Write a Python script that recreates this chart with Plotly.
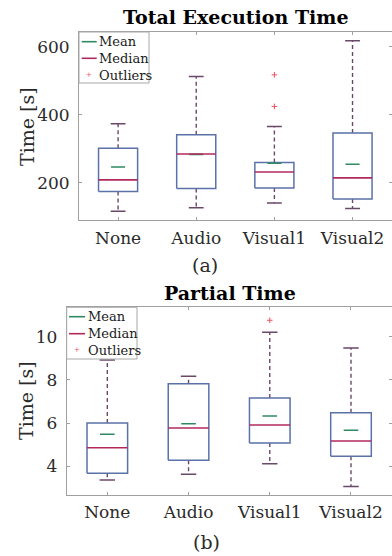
import plotly.graph_objects as go

categories = ["None", "Audio", "Visual1", "Visual2"]

# (a) Total Execution Time [s]
total_low = [116, 126, 140, 124]
total_q1 = [174, 183, 184, 152]
total_median = [208, 284, 231, 214]
total_mean = [246, 283, 257, 254]
total_q3 = [301, 341, 259, 346]
total_high = [373, 512, 365, 617]
total_outlier_cat = ["Visual1", "Visual1"]
total_outlier_val = [517, 424]

# (b) Partial Time [s]
partial_low = [3.37, 3.63, 4.12, 3.06]
partial_q1 = [3.68, 4.28, 5.08, 4.46]
partial_median = [4.86, 5.77, 5.91, 5.17]
partial_mean = [5.48, 5.97, 6.33, 5.67]
partial_q3 = [6.00, 7.82, 7.16, 6.48]
partial_high = [8.92, 8.17, 10.20, 9.48]
partial_outlier_cat = ["Visual1"]
partial_outlier_val = [10.76]

legend_labels = ["Mean", "Median", "Outliers"]

BOX_HALF = 0.25
CAP_HALF = 0.095
MEAN_HALF = 0.09

BOX_COLOR = "#5a72a8"
MEDIAN_COLOR = "#b3285c"
MEAN_COLOR = "#2f8a62"
WHISKER_COLOR = "#6a4868"
OUTLIER_COLOR = "#f0505e"
FONT = "DejaVu Serif"

W, H = 392, 556

fig = go.Figure()


def seg_lines(xs_pairs, ys_pairs):
    xs, ys = [], []
    for (x0, x1), (y0, y1) in zip(xs_pairs, ys_pairs):
        xs += [x0, x1, None]
        ys += [y0, y1, None]
    return xs, ys


def add_boxplot(low, q1, med, mean, q3, high, out_cat, out_val, xa, ya):
    pos = list(range(1, len(categories) + 1))
    wx, wy = seg_lines(
        [(p, p) for p in pos] + [(p, p) for p in pos],
        [(q3[i], high[i]) for i in range(len(pos))] + [(q1[i], low[i]) for i in range(len(pos))],
    )
    fig.add_trace(go.Scatter(x=wx, y=wy, mode="lines", xaxis=xa, yaxis=ya, showlegend=False,
                             line=dict(color=WHISKER_COLOR, width=1.4, dash="4px,3px"),
                             hoverinfo="skip"))
    cx, cy = seg_lines(
        [(p - CAP_HALF, p + CAP_HALF) for p in pos] * 2,
        [(h, h) for h in high] + [(l, l) for l in low],
    )
    fig.add_trace(go.Scatter(x=cx, y=cy, mode="lines", xaxis=xa, yaxis=ya, showlegend=False,
                             line=dict(color=WHISKER_COLOR, width=1.5), hoverinfo="skip"))
    bx, by = [], []
    for i, p in enumerate(pos):
        bx += [p - BOX_HALF, p + BOX_HALF, p + BOX_HALF, p - BOX_HALF, p - BOX_HALF, None]
        by += [q1[i], q1[i], q3[i], q3[i], q1[i], None]
    fig.add_trace(go.Scatter(x=bx, y=by, mode="lines", xaxis=xa, yaxis=ya, showlegend=False,
                             line=dict(color=BOX_COLOR, width=1.5), hoverinfo="skip"))
    ax_, ay_ = seg_lines([(p - MEAN_HALF, p + MEAN_HALF) for p in pos], [(m, m) for m in mean])
    fig.add_trace(go.Scatter(x=ax_, y=ay_, mode="lines", xaxis=xa, yaxis=ya, name="Mean",
                             showlegend=False, line=dict(color=MEAN_COLOR, width=1.6)))
    mx, my = seg_lines([(p - BOX_HALF, p + BOX_HALF) for p in pos], [(m, m) for m in med])
    fig.add_trace(go.Scatter(x=mx, y=my, mode="lines", xaxis=xa, yaxis=ya, name="Median",
                             showlegend=False, line=dict(color=MEDIAN_COLOR, width=1.6)))
    ox = [categories.index(c) + 1 for c in out_cat]
    fig.add_trace(go.Scatter(x=ox, y=out_val, mode="markers", xaxis=xa, yaxis=ya, name="Outliers",
                             showlegend=False,
                             marker=dict(symbol="cross-thin", size=4,
                                         line=dict(color=OUTLIER_COLOR, width=1))))


add_boxplot(total_low, total_q1, total_median, total_mean, total_q3, total_high,
            total_outlier_cat, total_outlier_val, "x", "y")
add_boxplot(partial_low, partial_q1, partial_median, partial_mean, partial_q3, partial_high,
            partial_outlier_cat, partial_outlier_val, "x2", "y2")


def px_x(v):
    return v / W


def px_y(v):
    return 1 - v / H


def add_legend_box(left, top, right, bottom, line_x0, line_x1, text_x, rows):
    fig.add_shape(type="rect", xref="paper", yref="paper",
                  x0=px_x(left), x1=px_x(right), y0=px_y(bottom), y1=px_y(top),
                  line=dict(color="#a8a8a8", width=1), fillcolor="white", layer="above")
    colors = [MEAN_COLOR, MEDIAN_COLOR, OUTLIER_COLOR]
    for i, (lab, yc) in enumerate(zip(legend_labels, rows)):
        if i < 2:
            fig.add_shape(type="line", xref="paper", yref="paper",
                          x0=px_x(line_x0), x1=px_x(line_x1), y0=px_y(yc), y1=px_y(yc),
                          line=dict(color=colors[i], width=1.6), layer="above")
        else:
            fig.add_annotation(xref="paper", yref="paper", x=px_x((line_x0 + line_x1) / 2),
                               y=px_y(yc), text="+", showarrow=False,
                               font=dict(size=7, color=OUTLIER_COLOR, family="DejaVu Sans"),
                               xanchor="center", yanchor="middle")
        fig.add_annotation(xref="paper", yref="paper", x=px_x(text_x), y=px_y(yc), text=lab,
                           showarrow=False, xanchor="left", yanchor="middle",
                           font=dict(size=13, color="#1a1a1a", family=FONT))


axis_common = dict(showline=True, linecolor="#a0a0a0", linewidth=1, mirror="ticks",
                   ticks="inside", ticklen=3, tickcolor="#a0a0a0", showgrid=False,
                   zeroline=False, tickfont=dict(family=FONT, size=17, color="#2a2a2a"))

pos = list(range(1, len(categories) + 1))
fig.update_layout(
    width=W, height=H,
    margin=dict(l=0, r=0, t=0, b=0),
    paper_bgcolor="white", plot_bgcolor="white",
    font=dict(family=FONT, color="#2a2a2a"),
    showlegend=False,
    xaxis=dict(domain=[79 / W, 0.999], anchor="y", range=[0.5, 4.5], tickvals=pos,
               ticktext=categories, ticklabelstandoff=3, **axis_common),
    yaxis=dict(domain=[1 - 220 / H, 1 - 32 / H], anchor="x", range=[90, 643],
               tickvals=[200, 400, 600], ticklabelstandoff=5, **axis_common),
    xaxis2=dict(domain=[66.7 / W, 0.999], anchor="y2", range=[0.5, 4.5], tickvals=pos,
                ticktext=categories, ticklabelstandoff=2, **axis_common),
    yaxis2=dict(domain=[1 - 495 / H, 1 - 307.3 / H], anchor="x2", range=[2.67, 11.36],
                tickvals=[4, 6, 8, 10], ticklabelstandoff=5, **axis_common),
)

add_legend_box(79, 32, 149, 83, 81.7, 96.7, 97, [41.7, 58.3, 75])
add_legend_box(66.7, 307.3, 137, 359, 69, 85, 85.5, [316.7, 333.7, 350])

annotations = [
    dict(text="<b>Total Execution Time</b>", x=235.5 / W, y=1 - 17 / H, font=dict(size=19, color="black")),
    dict(text="<b>Partial Time</b>", x=229.5 / W, y=1 - 293.3 / H, font=dict(size=19, color="black")),
    dict(text="Time [s]", x=27 / W, y=1 - 126 / H, textangle=-90, font=dict(size=19)),
    dict(text="Time [s]", x=26 / W, y=1 - 401 / H, textangle=-90, font=dict(size=19)),
    dict(text="(a)", x=205 / W, y=1 - 265 / H, font=dict(size=19)),
    dict(text="(b)", x=206 / W, y=1 - 541.7 / H, font=dict(size=19)),
]
for a in annotations:
    fig.add_annotation(xref="paper", yref="paper", showarrow=False, xanchor="center",
                       yanchor="middle", **a)

fig.write_html("out.html", config={"displayModeBar": False},
               post_script="document.body.style.margin='0';document.body.style.overflow='hidden';")
